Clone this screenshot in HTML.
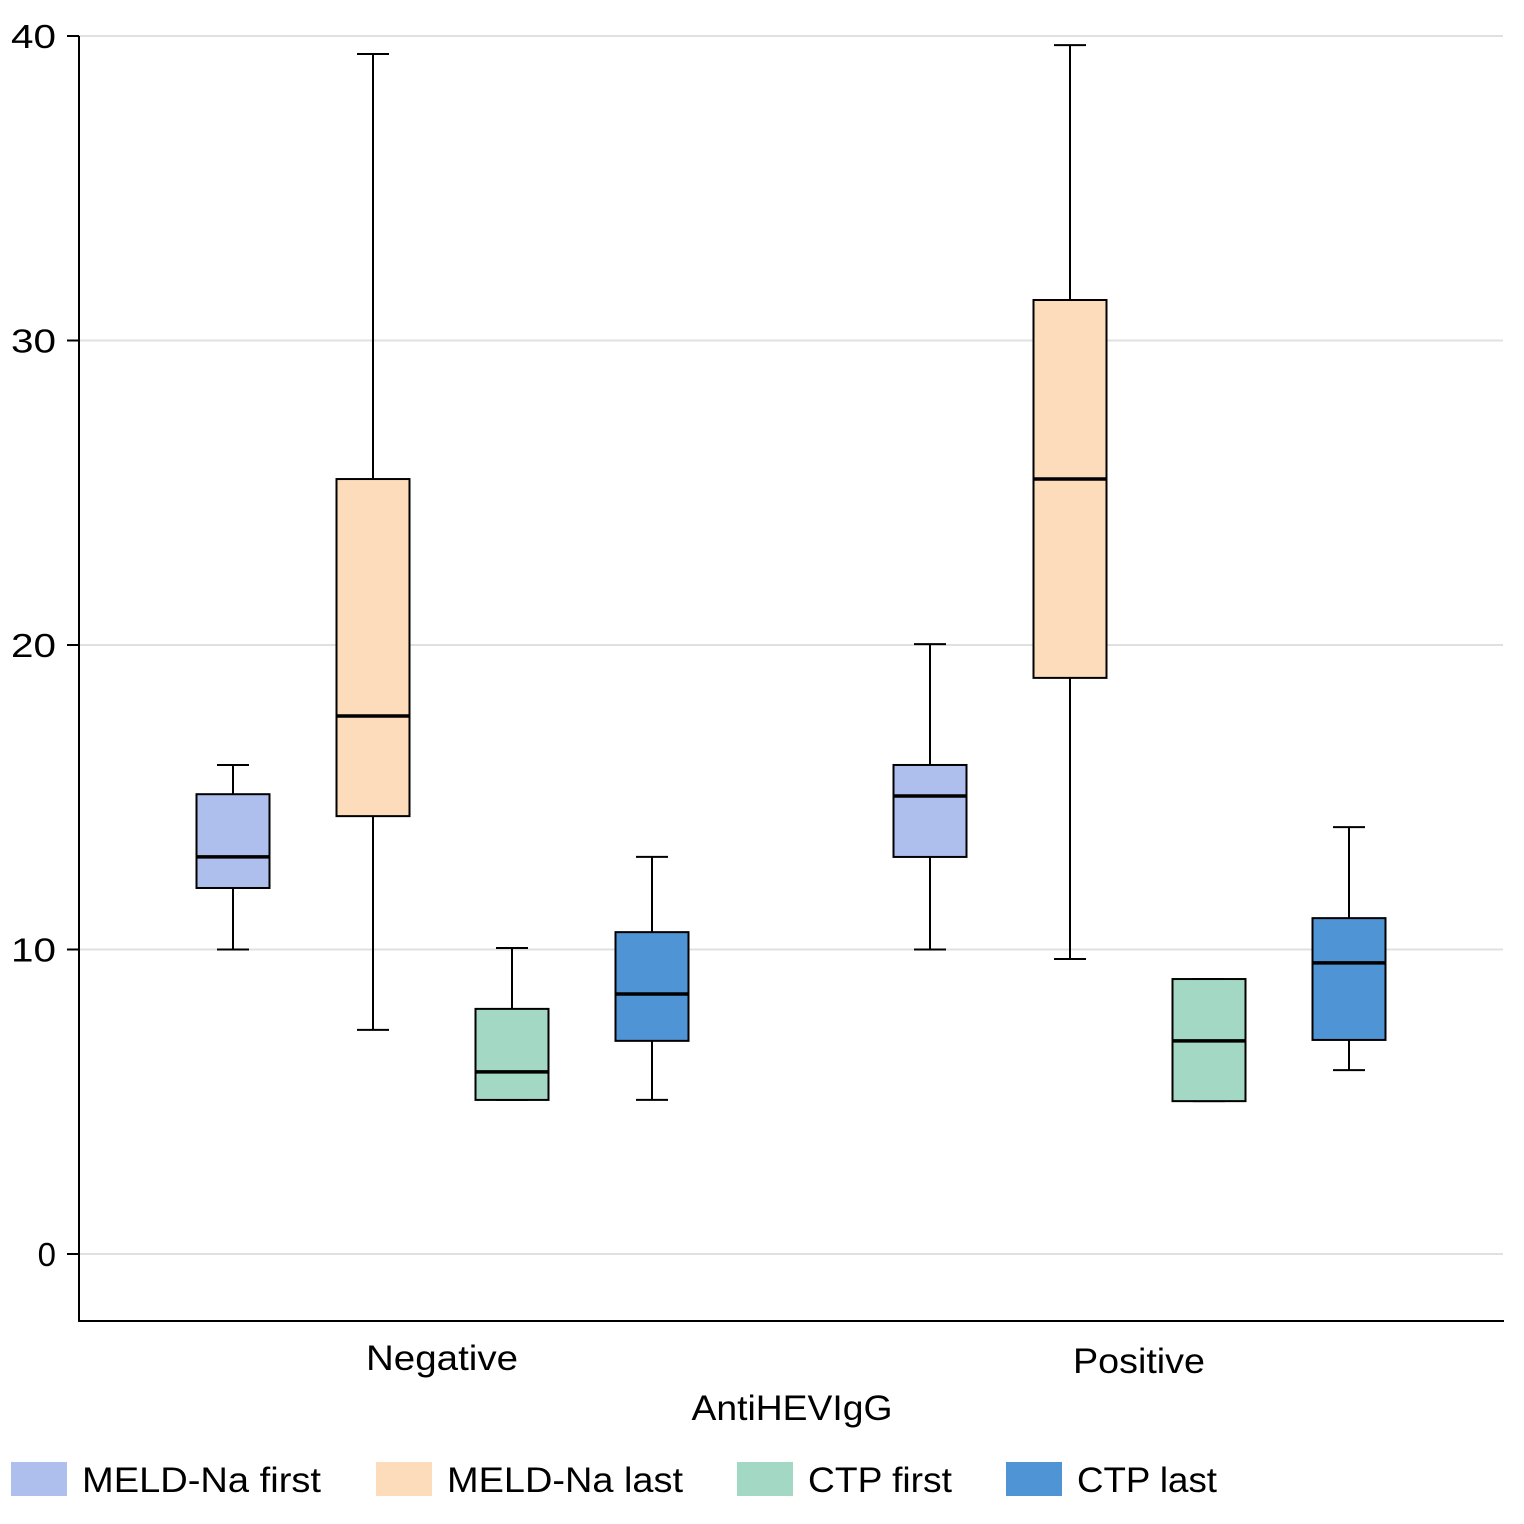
<!DOCTYPE html>
<html><head><meta charset="utf-8"><style>
body{margin:0;background:#fff}
svg text{font-family:"Liberation Sans",sans-serif;fill:#000}
</style></head><body>
<svg id="chart" width="1524" height="1519" xmlns="http://www.w3.org/2000/svg">
<g id="grid"></g><g id="boxes"></g><g id="axes"></g><g id="legend"></g>
</svg>
<script>
const groups = ["Negative", "Positive"];
const seriesNames = ["MELD-Na first", "MELD-Na last", "CTP first", "CTP last"];
const seriesColors = ["#aebfee", "#fddcbb", "#a3d9c4", "#4f94d4"];
// [min, q1, median, q3, max] per series per group
const negStats = [[10, 12.02, 13.04, 15.1, 16.06],[7.36, 14.38, 17.67, 25.45, 39.41],[5.06, 5.06, 5.98, 8.05, 10.05],[5.06, 7.0, 8.54, 10.57, 13.04]];
const posStats = [[10, 13.04, 15.04, 16.06, 20.03],[9.69, 18.92, 25.45, 31.33, 39.7],[5.02, 5.02, 7.0, 9.03, 9.03],[6.04, 7.03, 9.56, 11.03, 14.02]];
const yTicks = [0, 10, 20, 30, 40];

const NS="http://www.w3.org/2000/svg";
function yS(v){return 1254 - v*30.45;}
const groupCenters=[442,1139];
const offsets=[-209,-69,70,210];
function xS(g,s){return groupCenters[g]+offsets[s];}
function mk(tag,attrs,parent){const e=document.createElementNS(NS,tag);for(const k in attrs)e.setAttribute(k,attrs[k]);parent.appendChild(e);return e;}
const grid=document.getElementById('grid'),boxes=document.getElementById('boxes'),axes=document.getElementById('axes'),legend=document.getElementById('legend');
yTicks.forEach(t=>{
  const l=mk('line',{x1:79,x2:1503,y1:yS(t),y2:yS(t),stroke:'#e0e0e0','stroke-width':2},grid);
  
  
  mk('line',{x1:67,x2:79,y1:yS(t),y2:yS(t),stroke:'#000','stroke-width':2},axes);
  const attrs={x:56,y:yS(t)+12,'text-anchor':'end','font-size':33};
  if(String(t).length===2){attrs.textLength=45;attrs.lengthAdjust='spacingAndGlyphs';}
  const tx=mk('text',attrs,axes);
  tx.textContent=t;
  
  
});
[negStats,posStats].forEach((stats,g)=>{
  stats.forEach((st,s)=>{
    const cx=xS(g,s),w=73,cw=32;
    const grp=mk('g',{},boxes);
    
    
    const a={stroke:'#000','stroke-width':2};
    mk('line',Object.assign({x1:cx,x2:cx,y1:yS(st[0]),y2:yS(st[1])},a),grp);
    mk('line',Object.assign({x1:cx,x2:cx,y1:yS(st[3]),y2:yS(st[4])},a),grp);
    mk('line',Object.assign({x1:cx-cw/2,x2:cx+cw/2,y1:yS(st[0]),y2:yS(st[0])},a),grp);
    mk('line',Object.assign({x1:cx-cw/2,x2:cx+cw/2,y1:yS(st[4]),y2:yS(st[4])},a),grp);
    mk('rect',{x:cx-w/2,y:yS(st[3]),width:w,height:yS(st[1])-yS(st[3]),fill:seriesColors[s],stroke:'#000','stroke-width':2},grp);
    mk('line',{x1:cx-w/2,x2:cx+w/2,y1:yS(st[2]),y2:yS(st[2]),stroke:'#000','stroke-width':3.5},grp);
  });
});
mk('line',{x1:79,x2:79,y1:36,y2:1322,stroke:'#000','stroke-width':2},axes);
mk('line',{x1:78,x2:1504,y1:1321,y2:1321,stroke:'#000','stroke-width':2},axes);
const groupLabelW=[152,132];
groups.forEach((gname,g)=>{
  const t=mk('text',{x:groupCenters[g],y:1370+(g?3:0),'text-anchor':'middle','font-size':35,textLength:groupLabelW[g],lengthAdjust:'spacingAndGlyphs'},axes);
  t.textContent=gname;
  
  
});
const xt=mk('text',{x:792,y:1420,'text-anchor':'middle','font-size':35,textLength:201,lengthAdjust:'spacingAndGlyphs'},axes);
xt.textContent='AntiHEVIgG';


const lx=[11,376,737,1006];
const legendW=[239,236,144,140];
seriesNames.forEach((n,s)=>{
  const g=mk('g',{},legend);
  
  
  mk('rect',{x:lx[s],y:1462,width:56,height:34,fill:seriesColors[s]},g);
  const t=mk('text',{x:lx[s]+71,y:1492,'font-size':35,textLength:legendW[s],lengthAdjust:'spacingAndGlyphs'},g);
  t.textContent=n;
});
</script>
</body></html>
